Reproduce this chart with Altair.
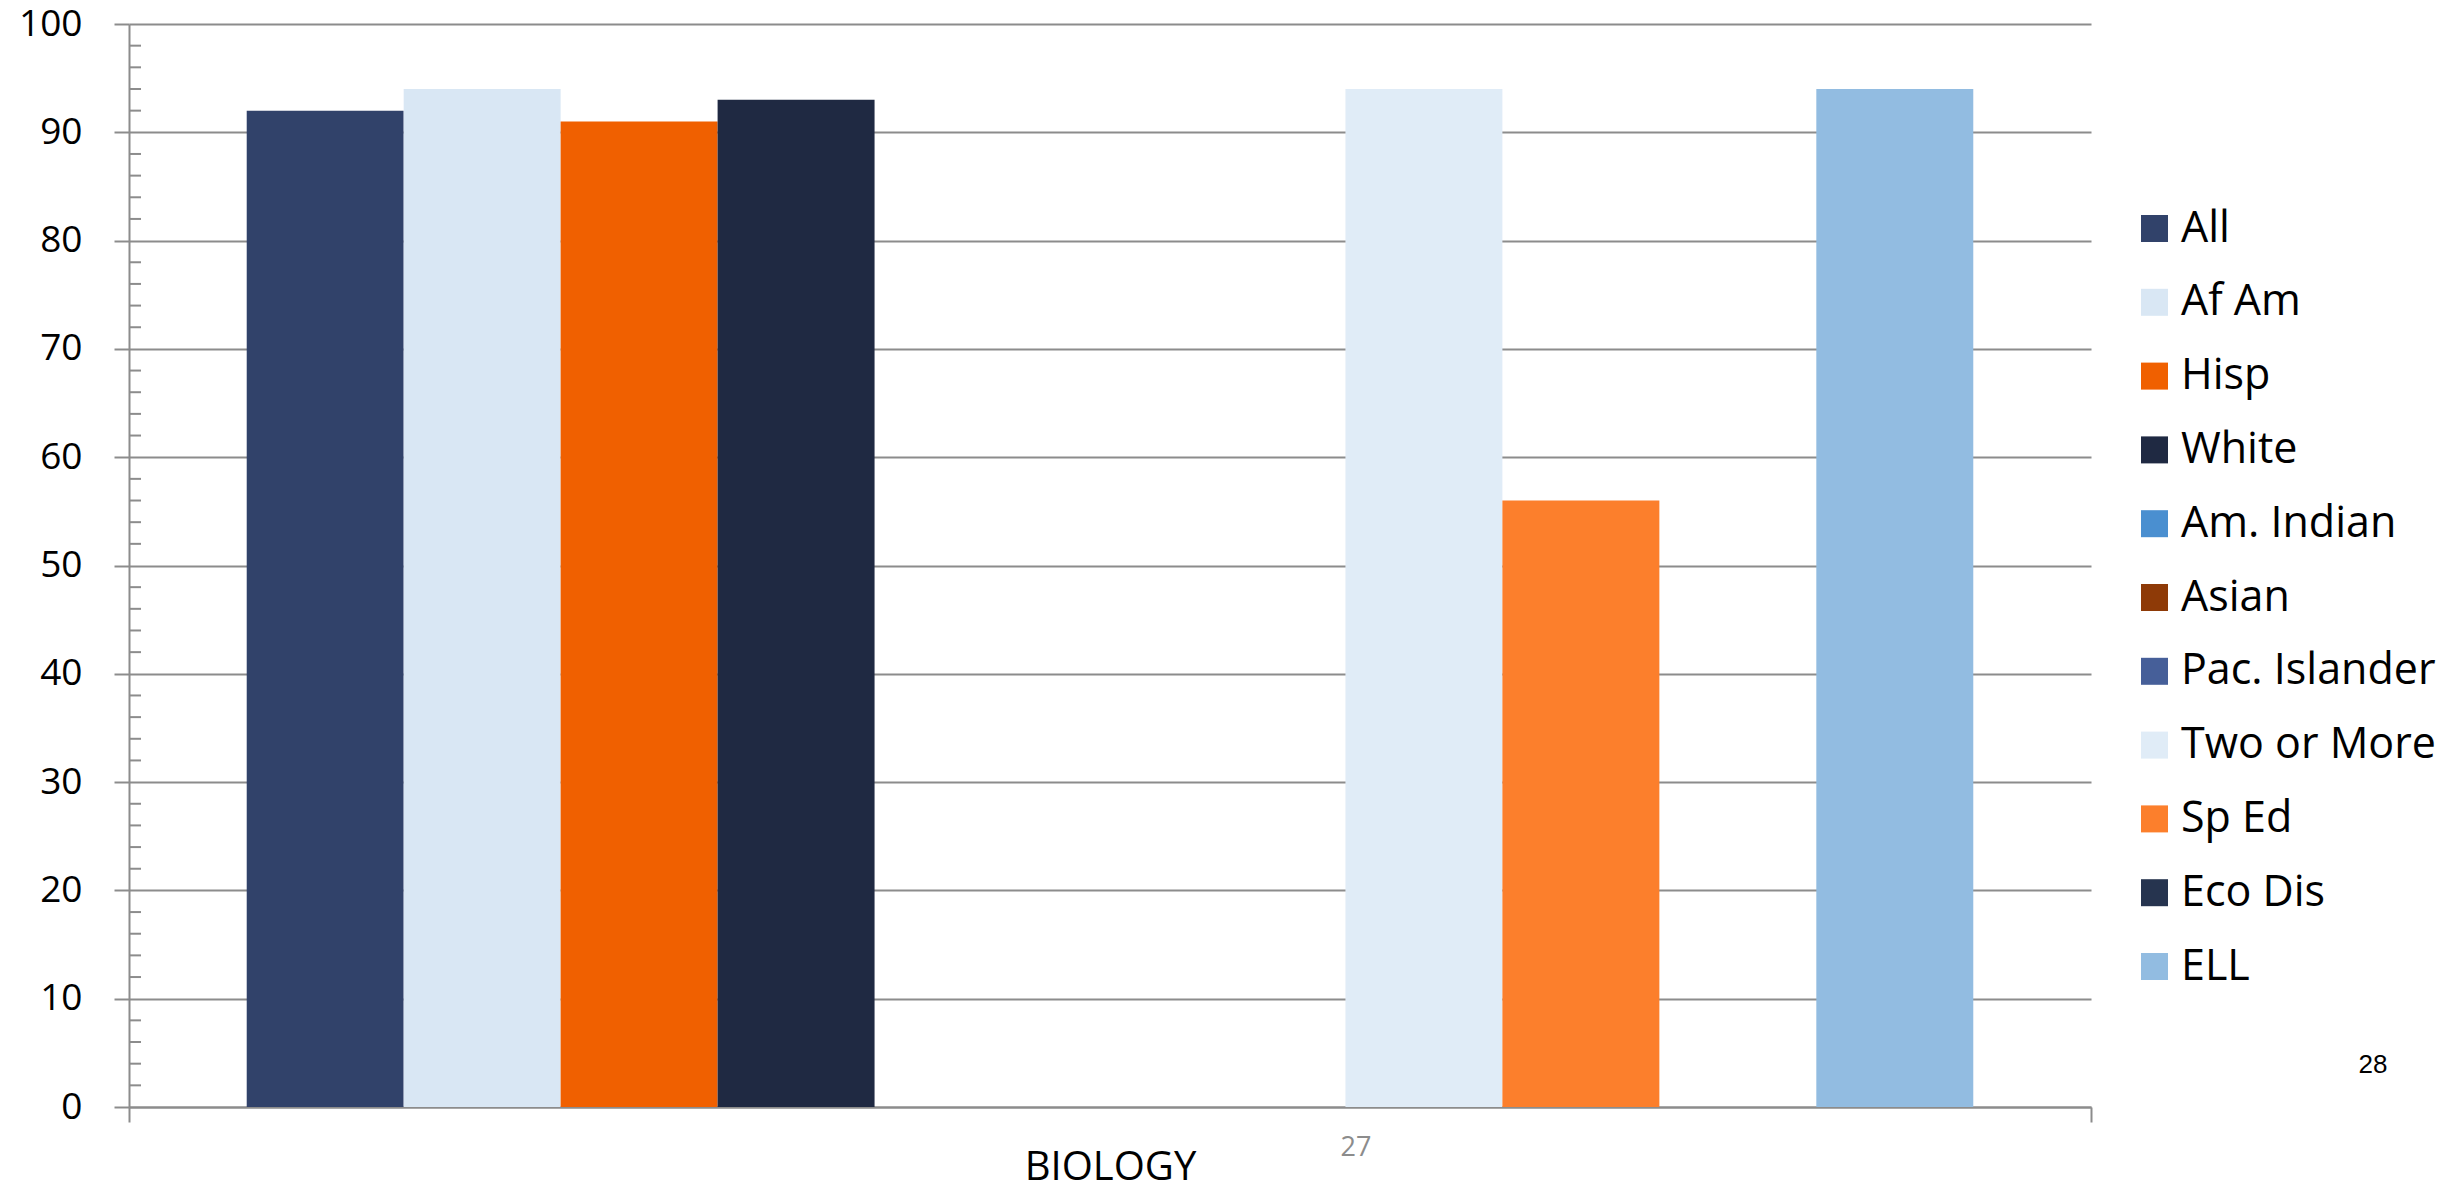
import altair as alt
import pandas as pd

subject = "BIOLOGY"
groups = ["All", "Af Am", "Hisp", "White", "Am. Indian", "Asian",
          "Pac. Islander", "Two or More", "Sp Ed", "Eco Dis", "ELL"]
values = [92, 94, 91, 93, None, None, None, 94, 56, None, 94]
colors = ["#31426A", "#D9E7F4", "#F06000", "#1F2942", "#4A8FD0", "#8E3A07",
          "#465F99", "#E0ECF7", "#FC7F2C", "#26344F", "#92BCE1"]
y_ticks = list(range(0, 101, 10))
minor_ticks = [v for v in range(2, 100, 2) if v % 10 != 0]
notes = ["27", "28"]

GRAY = "#8c8c8c"
FONT = "Open Sans"

df = pd.DataFrame({"Subject": [subject] * len(groups), "Group": groups, "Value": values})
minor_df = pd.DataFrame({"minor": minor_ticks})

W, H = 1962, 1083

yscale = alt.Scale(domain=[0, 100], nice=False)

bars = alt.Chart(df).mark_bar().encode(
    x=alt.X("Subject:N",
            scale=alt.Scale(paddingInner=0, paddingOuter=0),
            axis=alt.Axis(title=None, labelFont=FONT, labelFontSize=40, labelColor="black",
                          labelAngle=0, domainColor=GRAY, domainWidth=2, tickColor=GRAY,
                          tickWidth=2, tickSize=15, tickBand="extent", grid=False,
                          labelPadding=25)),
    xOffset=alt.XOffset("Group:N", sort=groups,
                        scale=alt.Scale(domain=groups, paddingInner=0, paddingOuter=0.75)),
    y=alt.Y("Value:Q", scale=yscale,
            axis=alt.Axis(title=None, values=y_ticks, labelFont=FONT, labelFontSize=37,
                          labelColor="black", domainColor=GRAY, domainWidth=2,
                          tickColor=GRAY, tickWidth=2, tickSize=15, labelPadding=32,
                          grid=True, gridColor=GRAY, gridWidth=2)),
    color=alt.Color("Group:N", sort=groups,
                    scale=alt.Scale(domain=groups, range=colors),
                    legend=alt.Legend(title=None, orient="none", legendX=2004, legendY=183,
                                      symbolType="square", symbolSize=729,
                                      symbolStrokeWidth=0, symbolOpacity=1,
                                      labelFont=FONT, labelFontSize=43, labelColor="black",
                                      labelOffset=5, rowPadding=29.8, padding=0,
                                      labelLimit=400)),
)

minor = alt.Chart(minor_df).mark_rule(color=GRAY, strokeWidth=2).encode(
    y=alt.Y("minor:Q", scale=yscale),
    x=alt.value(0),
    x2=alt.value(12),
)

note27 = alt.Chart(pd.DataFrame({"t": [notes[0]]})).mark_text(
    font=FONT, fontSize=27, color=GRAY, align="center", baseline="middle"
).encode(text="t:N", x=alt.value(1227), y=alt.value(1124))

note28 = alt.Chart(pd.DataFrame({"t": [notes[1]]})).mark_text(
    font="Liberation Sans", fontSize=26, color="black", align="center", baseline="middle"
).encode(text="t:N", x=alt.value(2244), y=alt.value(1041))

chart = alt.layer(bars, minor, note27, note28).properties(
    width=W, height=H,
    autosize=alt.AutoSizeParams(type="none"),
    padding={"left": 121, "top": 16, "right": 355, "bottom": 73},
).configure_view(stroke=None)

chart.save("out.html", embed_options={"renderer": "svg", "actions": False})
